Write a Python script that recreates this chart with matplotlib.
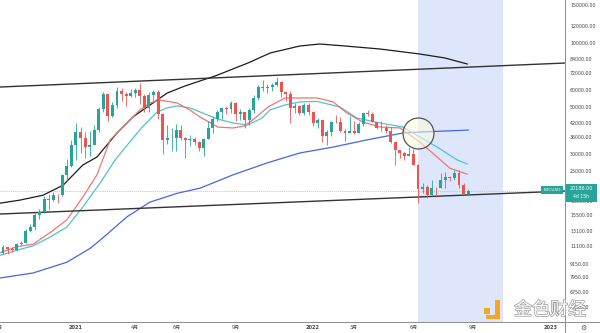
import numpy as np
import pandas as pd
import matplotlib
matplotlib.use('Agg')
import matplotlib.pyplot as plt
import matplotlib.dates as mdates
from matplotlib.lines import Line2D
from matplotlib.patches import Rectangle
from matplotlib.ticker import FixedLocator, FixedFormatter, NullLocator
import matplotlib.patheffects as pe

plt.rcParams['font.family'] = ['DejaVu Sans', 'Noto Sans CJK SC']

#   DADOS - VELAS SEMANAIS BTCUSD
inicio = '2020-09-14'
abertura = [10330, 10920, 10770, 10670, 11370, 11500, 13030, 13560, 15480, 15960,
            18410, 18180, 19270, 19170, 23780, 26270, 33000, 38150, 35800, 32260,
            33100, 38880, 48600, 57480, 45200, 50950, 59000, 57500, 55800, 58200,
            59800, 56200, 49100, 56600, 58300, 46400, 34700, 35600, 35800, 39000,
            35500, 34700, 35300, 34250, 31800, 35400, 39850, 43800, 47000, 49300,
            48900, 51800, 46000, 47300, 43200, 48200, 54950, 61500, 61300, 61800,
            63300, 65500, 58600, 57300, 49400, 50100, 46700, 50800, 47300, 41800,
            43100, 36300, 37900, 42400, 42200, 38400, 37700, 38400, 37800, 41300,
            46800, 46400, 42200, 39700, 39500, 38500, 34100, 31300, 30300, 29400,
            29900, 26600, 20550, 21000, 19300, 20850, 20800, 22600, 23300, 23200,
            24300, 21500, 19550]
maxima = [11180, 10990, 10950, 11490, 11720, 13350, 14090, 15960, 16480, 18950,
          19480, 19900, 19420, 24200, 28400, 34800, 41950, 40100, 37850, 38600,
          40950, 49710, 58350, 57500, 52600, 61800, 61200, 58400, 60200, 61300,
          64900, 57500, 58400, 59600, 59600, 46700, 40900, 39500, 41300, 41000,
          36000, 36600, 35900, 34600, 35500, 42600, 44700, 48200, 49400, 50500,
          52900, 52800, 48800, 47400, 49300, 56600, 62900, 67000, 63700, 64300,
          69000, 66300, 59300, 59200, 51900, 51000, 52100, 52100, 47500, 44400,
          43500, 38900, 42600, 45800, 44700, 39400, 45400, 42600, 42400, 46900,
          48200, 47200, 42400, 42900, 40800, 40000, 34200, 31400, 30600, 32200,
          31700, 26900, 21900, 21500, 22500, 21000, 24300, 24700, 23700, 25200,
          25100, 21800, 20500]
minima = [10200, 10140, 10380, 10530, 11210, 11420, 12890, 13200, 14840, 15800,
          16300, 18000, 17600, 19000, 22400, 26100, 28130, 30420, 28800, 29240,
          33400, 37980, 47000, 43000, 44900, 49300, 53250, 50400, 55500, 55450,
          51500, 47000, 47000, 53000, 43800, 30000, 33500, 31000, 31000, 34900,
          28800, 32700, 33100, 31000, 29300, 35200, 37500, 43000, 43900, 46400,
          46600, 42800, 43400, 39600, 40800, 46900, 53900, 59500, 58000, 59500,
          62300, 55600, 53300, 42000, 46800, 45500, 45600, 45900, 40600, 39600,
          34000, 32900, 36300, 41700, 38000, 34300, 37500, 37200, 37600, 40500,
          45200, 42200, 39200, 38600, 37600, 33700, 26700, 28700, 28000, 29300,
          26600, 17600, 19700, 18600, 19000, 18900, 20700, 20700, 22400, 22700,
          20800, 19500, 19550]
fechamento = [10920, 10770, 10670, 11370, 11500, 13030, 13560, 15480, 15960, 18410,
              18180, 19270, 19170, 23780, 26270, 33000, 38150, 35800, 32260, 33100,
              38880, 48600, 57480, 45200, 50950, 59000, 57500, 55800, 58200, 59800,
              56200, 49100, 56600, 58300, 46400, 34700, 35600, 35800, 39000, 35500,
              34700, 35300, 34250, 31800, 35400, 39850, 43800, 47000, 49300, 48900,
              51800, 46000, 47300, 43200, 48200, 54950, 61500, 61300, 61800, 63300,
              65500, 58600, 57300, 49400, 50100, 46700, 50800, 47300, 41800, 43100,
              36300, 37900, 42400, 42200, 38400, 37700, 38400, 37800, 41300, 46800,
              46400, 42200, 39700, 39500, 38500, 34100, 31300, 30300, 29400, 29900,
              26600, 20550, 21000, 19300, 20850, 20800, 22600, 23300, 23200, 24300,
              21500, 19550, 20186]
ultimo_preco = 20186
tempo_restante = '4d 15h'

#   MÉDIAS MÓVEIS (semana desde o início, preço)
mm_vermelha_sem = [-0.7, 3.1, 6.6, 10.3, 14, 17.5, 20.6, 23.5, 27.2, 30, 32.2, 34.4, 38.2, 41,
                   43.2, 47.1, 50.4, 53, 55.3, 58.1, 61.8, 63.6, 68.9, 72.4, 75.4, 78.9, 82.7,
                   87.1, 91.4, 95.2, 98, 101.8]
mm_vermelha = [10300, 11000, 11300, 12800, 14700, 18800, 23900, 34900, 41900, 48200, 52000,
               53700, 52000, 48200, 44700, 40100, 39700, 40600, 44200, 49800, 54900, 54900,
               54900, 52600, 46700, 42300, 40100, 39700, 34100, 29000, 25700, 24100]
mm_ciano_sem = [-0.7, 3.1, 6.6, 10.3, 14, 17.5, 21.3, 24.6, 28.5, 30.5, 33.8, 36, 38.2, 41,
                43.2, 47.1, 50.4, 53.7, 56.8, 58.5, 61.8, 65.1, 68.9, 73.9, 77.6, 82.7, 87.7,
                91.4, 95.2, 99.6, 101.8]
mm_ciano = [10000, 10600, 11100, 12200, 13600, 16900, 21900, 28100, 35600, 40000, 47200,
            49300, 50400, 49300, 47200, 43700, 41900, 41000, 44200, 48200, 50900, 52600,
            52900, 49800, 44200, 41900, 40100, 36000, 32300, 28100, 26900]
mm_azul_sem = [-0.7, 6.6, 14, 19.1, 21.3, 27.2, 32.2, 38.2, 43.2, 50.4, 57.9, 65.1, 72.4,
               79.8, 87.7, 91.4, 102]
mm_azul = [7840, 8280, 9300, 10800, 11800, 15200, 17800, 19600, 20700, 23900, 27200, 30300,
           32300, 34900, 37600, 38000, 38800]
mm_preta_sem = [-0.7, 3.7, 8.8, 13.2, 17.5, 20.6, 25, 28.5, 31.6, 36, 39.9, 43.2, 46.5, 53.7,
                58.6, 65.1, 69.5, 75, 82.7, 91.4, 96.9, 101.8]
mm_preta = [17600, 18200, 19200, 21400, 26600, 29000, 37600, 44700, 49800, 57900, 62500,
            66000, 69600, 80100, 89300, 96300, 98400, 96300, 93200, 88300, 84600, 79300]

#   LINHAS DE TENDÊNCIA
tend_sem = [-0.7, 123.2]
tend_superior = [61800, 80100]
tend_inferior = [15660, 20080]

#   MARCAÇÕES
faixa_inicio = '2022-06-13'
faixa_fim = '2022-10-22'
circulo_sem = 91
circulo_preco = 37600

precos_eixo = [150000, 120000, 100000, 84000, 72000, 60000, 50000, 42000, 36000, 30000,
               25000, 21000, 18000, 15500, 13100, 11100, 9150, 7950, 6750, 5750]
# rótulos ficam na primeira vela de cada mês
datas_eixo = ['2020-09-07', '2021-01-04', '2021-04-05', '2021-06-07', '2021-09-06',
              '2022-01-03', '2022-03-07', '2022-06-06', '2022-09-05', '2023-01-02']
rotulos_eixo = ['9月', '2021', '4月', '6月', '9月', '2022', '3月', '6月', '9月', '2023']

#   CORES
VERDE = '#26a69a'
VERMELHO = '#ef5350'

W, H = 600, 333
fig = plt.figure(figsize=(6, 3.33), dpi=100)
ax = fig.add_axes([0, 11 / H, 565 / W, 322 / H])

base = mdates.date2num(pd.Timestamp(inicio))
def semana(s):
    return base + 7 * np.asarray(s, dtype=float)

datas = semana(np.arange(len(abertura)))
o = np.array(abertura, float)
c = np.array(fechamento, float)
hi = np.array(maxima, float)
lo = np.array(minima, float)
cores = np.where(c >= o, VERDE, VERMELHO)

ax.set_yscale('log')
ax.set_xlim(base - 4.6, base + 862.7)
ax.set_ylim(4874, 158330)

# faixa sombreada
ax.axvspan(mdates.date2num(pd.Timestamp(faixa_inicio)), mdates.date2num(pd.Timestamp(faixa_fim)),
           color='#dee6fb', zorder=0, lw=0)

# linha do último preço
ax.axhline(ultimo_preco, color='#9ed8d1', lw=0.6, ls=(0, (1.5, 1)), zorder=1)

# médias
ax.plot(semana(mm_azul_sem), mm_azul, color='#4466e0', lw=0.9, zorder=2)
ax.plot(semana(mm_preta_sem), mm_preta, color='#1c1c1c', lw=0.9, zorder=2)
ax.plot(semana(mm_ciano_sem), mm_ciano, color='#52c3cf', lw=0.9, zorder=2)
ax.plot(semana(mm_vermelha_sem), mm_vermelha, color='#f07575', lw=0.9, zorder=2)

# tendências
ax.plot(semana(tend_sem), tend_superior, color='#333333', lw=1.0, zorder=3)
ax.plot(semana(tend_sem), tend_inferior, color='#333333', lw=1.0, zorder=3)

# velas
ax.vlines(datas, lo, hi, colors=cores, lw=0.6, zorder=4)
ax.bar(datas, c - o, bottom=o, width=4.5, color=cores, lw=0, zorder=5)

# círculo
ax.plot([semana(circulo_sem)], [circulo_preco], marker='o', ms=22.3,
        mfc=(1, 1, 0.88, 0.55), mec='#555555', mew=0.9, zorder=6)

# eixo de preços
ax.yaxis.tick_right()
ax.yaxis.set_major_locator(FixedLocator(precos_eixo))
ax.yaxis.set_major_formatter(FixedFormatter([f'{p:.2f}' for p in precos_eixo]))
ax.yaxis.set_minor_locator(NullLocator())
ax.tick_params(axis='y', length=0, pad=3.6, labelsize=3.4, labelcolor='#444444')
ax.set_xticks([])
for s in ax.spines.values():
    s.set_visible(False)

# eixo de datas
trans = matplotlib.transforms.blended_transform_factory(ax.transData, ax.transAxes)
for d, r in zip(datas_eixo, rotulos_eixo):
    ax.text(mdates.date2num(pd.Timestamp(d)), -0.016, r, transform=trans, ha='center', va='center',
            fontsize=3.6, color='#444444', fontweight='bold' if r.isdigit() else 'normal',
            family=['DejaVu Sans', 'Noto Sans CJK SC'], clip_on=False)

# bordas
fig.add_artist(Line2D([0, 1], [11 / H, 11 / H], color='#8c8c8c', lw=0.7))
fig.add_artist(Line2D([565 / W, 565 / W], [0, 1], color='#8c8c8c', lw=0.7))

def caixa(x0, y0, x1, y1, cor):
    fig.add_artist(Rectangle((x0 / W, 1 - y1 / H), (x1 - x0) / W, (y1 - y0) / H,
                             facecolor=cor, edgecolor='none', zorder=5))

# etiquetas do preço atual
caixa(541, 186, 563, 194, VERDE)
fig.text(552 / W, 1 - 190 / H, 'BTCUSD', color='white', fontsize=3.2, ha='center', va='center', zorder=6)
caixa(566, 184, 597, 202, VERDE)
fig.text(581 / W, 1 - 189 / H, f'{ultimo_preco:.2f}', color='white', fontsize=3.5,
         ha='center', va='center', zorder=6)
fig.text(581 / W, 1 - 197 / H, tempo_restante, color='white', fontsize=3.3,
         ha='center', va='center', zorder=6)

# engrenagem
fig.text(583 / W, 1 - 327.5 / H, '⚙', color='#555555', fontsize=5, ha='center', va='center')

# marca d'água
caixa(484, 308, 490, 314, '#f5a623')
caixa(495, 300, 500, 319, '#f5a623')
caixa(486, 315, 500, 319, '#f5a623')
fig.text(550 / W, 1 - 310 / H, '金色财经', fontsize=13, color='white', ha='center', va='center',
         family=['Noto Sans CJK SC'], zorder=6,
         path_effects=[pe.withStroke(linewidth=1.0, foreground='#9a9a9a')])

fig.savefig('out.png', dpi=100)
